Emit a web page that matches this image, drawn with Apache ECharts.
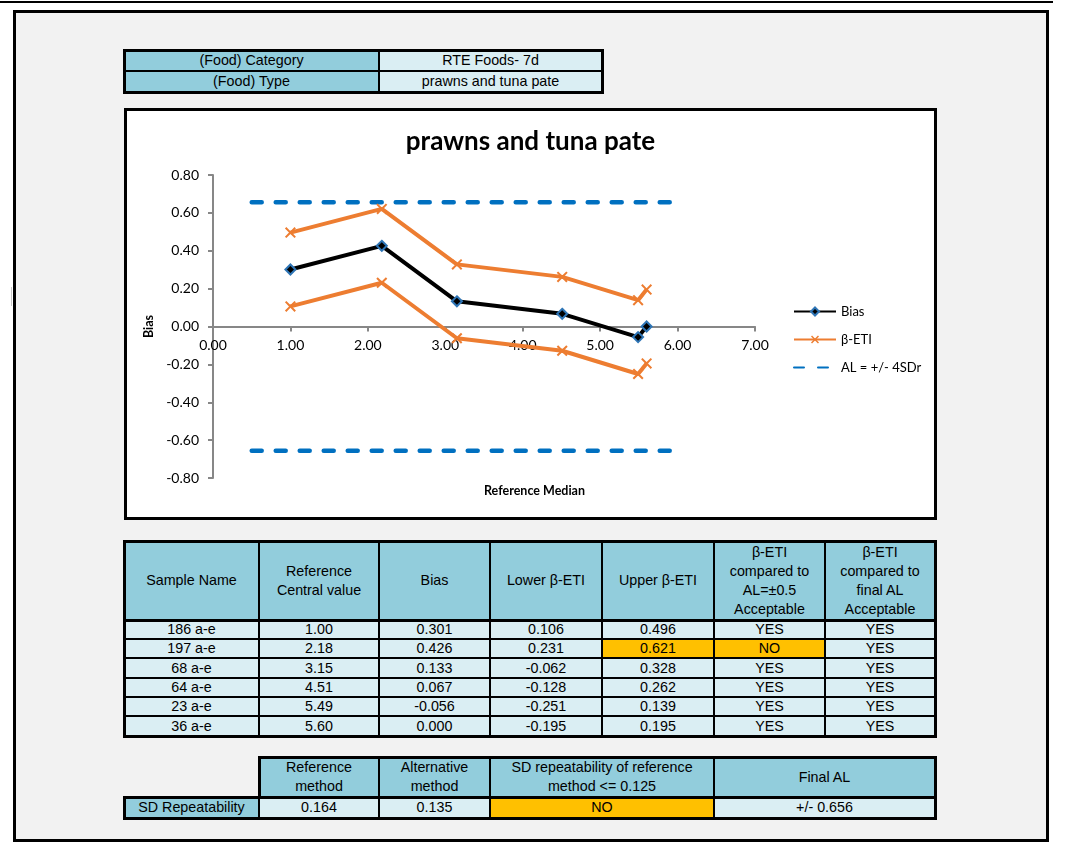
<!DOCTYPE html>
<html>
<head>
<meta charset="utf-8">
<script src="https://cdn.jsdelivr.net/npm/echarts@6/dist/echarts.min.js"></script>
<style>
  html, body { margin:0; padding:0; background:#fff; }
  body { width:1066px; height:843px; position:relative; overflow:hidden; }
  .abs { position:absolute; box-sizing:border-box; }
  .cell { position:absolute; box-sizing:border-box; border:2px solid #000;
          display:flex; align-items:center; justify-content:center; text-align:center;
          font-family:"Liberation Sans", Arial, sans-serif; font-size:14.3px; line-height:19px; color:#000; }
  .outer { position:absolute; box-sizing:border-box; border:3px solid #000; pointer-events:none; }
  #chart { position:absolute; left:124px; top:108px; width:813px; height:412px;
           border:3px solid #000; box-sizing:border-box; background:#fff; }
</style>
</head>
<body>
<div class="abs" style="left:0;top:1px;width:1053px;height:2px;background:#000"></div>
<div class="abs" style="left:13px;top:10px;width:1036px;height:832px;background:#f2f2f2;border:3px solid #000"></div>
<div class="abs" style="left:11px;top:287px;width:1px;height:19px;background:#c8c8c8"></div>
<div id="chart"></div>
<div id="tables"></div>
<script>
// ---------- data ----------
const foodCategory = "RTE Foods- 7d";
const foodType = "prawns and tuna pate";
const sampleNames = ["186 a-e", "197 a-e", "68 a-e", "64 a-e", "23 a-e", "36 a-e"];
const refCentral = [1.00, 2.18, 3.15, 4.51, 5.49, 5.60];
const bias = [0.301, 0.426, 0.133, 0.067, -0.056, 0.000];
const lowerETI = [0.106, 0.231, -0.062, -0.128, -0.251, -0.195];
const upperETI = [0.496, 0.621, 0.328, 0.262, 0.139, 0.195];
const acceptAL05 = ["YES", "NO", "YES", "YES", "YES", "YES"];
const acceptFinal = ["YES", "YES", "YES", "YES", "YES", "YES"];
const sdRefMethod = 0.164;
const sdAltMethod = 0.135;
const sdCheck = "NO";
const finalAL = 0.656;
const alXRange = [0.5, 6.0];
const headers = ["Sample Name", "Reference<br>Central value", "Bias", "Lower β-ETI", "Upper β-ETI",
  "β-ETI<br>compared to<br>AL=±0.5<br>Acceptable", "β-ETI<br>compared to<br>final AL<br>Acceptable"];
const sdHeaders = ["Reference<br>method", "Alternative<br>method", "SD repeatability of reference<br>method &lt;= 0.125", "Final AL"];

// ---------- tables ----------
const TEAL = "#92CDDC", LIGHT = "#DAEEF3", ORANGE = "#FFC000";
const host = document.getElementById("tables");
function cell(x0, x1, y0, y1, html, bg) {
  const d = document.createElement("div");
  d.className = "cell";
  d.style.left = (x0 - 1) + "px"; d.style.top = (y0 - 1) + "px";
  d.style.width = (x1 - x0 + 2) + "px"; d.style.height = (y1 - y0 + 2) + "px";
  d.style.background = bg;
  d.innerHTML = html;
  host.appendChild(d);
}
function outer(x0, x1, y0, y1) {
  const d = document.createElement("div");
  d.className = "outer";
  d.style.left = (x0 - 1.5) + "px"; d.style.top = (y0 - 1.5) + "px";
  d.style.width = (x1 - x0 + 3) + "px"; d.style.height = (y1 - y0 + 3) + "px";
  host.appendChild(d);
}
// top info table
const tc = [124, 379, 602], tr = [50, 71, 92];
cell(tc[0], tc[1], tr[0], tr[1], "(Food) Category", TEAL);
cell(tc[1], tc[2], tr[0], tr[1], foodCategory, LIGHT);
cell(tc[0], tc[1], tr[1], tr[2], "(Food) Type", TEAL);
cell(tc[1], tc[2], tr[1], tr[2], foodType, LIGHT);
outer(tc[0], tc[2], tr[0], tr[2]);

// main table
const mc = [124, 259, 379, 490, 602, 714, 825, 935];
const mr = [541, 620, 639, 658, 678, 697, 716, 736];
headers.forEach((h, i) => cell(mc[i], mc[i + 1], mr[0], mr[1], h, TEAL));
sampleNames.forEach((n, r) => {
  const vals = [n, refCentral[r].toFixed(2), bias[r].toFixed(3), lowerETI[r].toFixed(3),
    upperETI[r].toFixed(3), acceptAL05[r], acceptFinal[r]];
  const flags = [false, false, false, Math.abs(lowerETI[r]) > 0.5, Math.abs(upperETI[r]) > 0.5,
    acceptAL05[r] === "NO", acceptFinal[r] === "NO"];
  vals.forEach((v, i) => cell(mc[i], mc[i + 1], mr[r + 1], mr[r + 2], v, flags[i] ? ORANGE : LIGHT));
});
outer(mc[0], mc[7], mr[0], mr[7]);
outer(mc[0], mc[7], mr[0], mr[1]);

// SD table
const sc = [124, 259, 379, 490, 714, 935], sr = [757, 797, 818];
sdHeaders.forEach((h, i) => cell(sc[i + 1], sc[i + 2], sr[0], sr[1], h, TEAL));
cell(sc[0], sc[1], sr[1], sr[2], "SD Repeatability", TEAL);
cell(sc[1], sc[2], sr[1], sr[2], sdRefMethod.toFixed(3), LIGHT);
cell(sc[2], sc[3], sr[1], sr[2], sdAltMethod.toFixed(3), LIGHT);
cell(sc[3], sc[4], sr[1], sr[2], sdCheck, sdCheck === "NO" ? ORANGE : LIGHT);
cell(sc[4], sc[5], sr[1], sr[2], "+/- " + finalAL.toFixed(3), LIGHT);
outer(sc[1], sc[5], sr[0], sr[1]);
outer(sc[0], sc[5], sr[1], sr[2]);

// ---------- chart ----------
const chart = echarts.init(document.getElementById("chart"));
const FONT = "Lato";
const xSym = 'path://M1.3,0 L5,3.7 L8.7,0 L10,1.3 L6.3,5 L10,8.7 L8.7,10 L5,6.3 L1.3,10 L0,8.7 L3.7,5 L0,1.3 Z';
const pts = arr => refCentral.map((x, i) => [x, arr[i]]);
const orange = "#ED7D31", blue = "#0070C0";
const etiSeries = arr => ({
  name: "β-ETI", type: "line", data: pts(arr), symbol: xSym, symbolSize: 11,
  lineStyle: { color: orange, width: 4 }, itemStyle: { color: orange }, z: 3
});
const alSeries = sign => ({
  name: "AL = +/- 4SDr", type: "line", symbol: "none",
  data: alXRange.map(x => [x, sign * finalAL]),
  lineStyle: { color: blue, width: 4.5, type: [10, 14], cap: "round" }, itemStyle: { color: blue }, z: 2
});
const GRID_H = 303;
chart.setOption({
  animation: false,
  textStyle: { fontFamily: FONT },
  title: { text: foodType, left: "center", top: 13,
    textStyle: { fontFamily: FONT, fontWeight: "bold", fontSize: 26, color: "#000" } },
  grid: { left: 86, top: 64, width: 542, height: GRID_H, containLabel: false, outerBoundsMode: "none" },
  graphic: [{
    type: "text", left: 357, top: 373,
    style: { text: "Reference Median", font: "bold 12.5px Lato", fill: "#000", textAlign: "center" }
  }],
  legend: {
    orient: "vertical", left: 661, top: 189, itemWidth: 42, itemHeight: 10, itemGap: 15,
    textStyle: { fontFamily: FONT, fontSize: 13, color: "#000" },
    data: ["Bias", "β-ETI", { name: "AL = +/- 4SDr", itemStyle: { opacity: 0 } }]
  },
  xAxis: {
    type: "value", min: 0, max: 7, interval: 1,
    offset: -GRID_H / 2,
    axisLine: { onZero: false, lineStyle: { color: "#878787", width: 2 } },
    axisTick: { show: true, length: 5, lineStyle: { color: "#878787", width: 2 } },
    axisLabel: { margin: 12, fontFamily: FONT, fontSize: 14, color: "#000", formatter: v => v.toFixed(2) },
    splitLine: { show: false }
  },
  yAxis: {
    type: "value", min: -0.8, max: 0.8, interval: 0.2,
    name: "Bias", nameLocation: "middle", nameGap: 52,
    nameTextStyle: { fontFamily: FONT, fontWeight: "bold", fontSize: 12.5, color: "#000" },
    axisLine: { show: true, onZero: false, lineStyle: { color: "#878787", width: 2 } },
    axisTick: { show: true, length: 5, lineStyle: { color: "#878787", width: 2 } },
    axisLabel: { margin: 14, fontFamily: FONT, fontSize: 14, color: "#000", formatter: v => v.toFixed(2) },
    splitLine: { show: false }
  },
  series: [
    { name: "Bias", type: "line", data: pts(bias), symbol: "diamond", symbolSize: 10,
      lineStyle: { color: "#000", width: 4 },
      itemStyle: { color: "#000", borderColor: "#2E75B6", borderWidth: 2 }, z: 4 },
    etiSeries(upperETI),
    etiSeries(lowerETI),
    alSeries(1),
    alSeries(-1)
  ]
});
</script>
</body>
</html>
